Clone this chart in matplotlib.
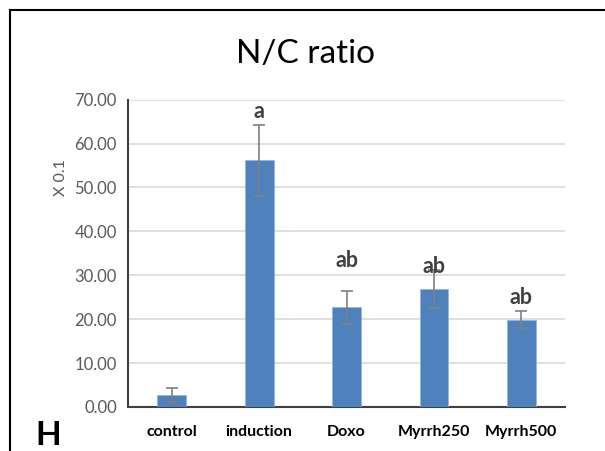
import matplotlib
matplotlib.use("Agg")
import matplotlib.pyplot as plt
from matplotlib.lines import Line2D

categories = ["control", "induction", "Doxo", "Myrrh250", "Myrrh500"]
values = [2.65, 56.2, 22.7, 26.8, 19.9]
errors = [1.6, 8.1, 3.8, 4.3, 2.0]
letters = ["", "a", "ab", "ab", "ab"]
letter_y = [0, 67.2, 33.3, 32.1, 25.0]
yticks = [0, 10, 20, 30, 40, 50, 60, 70]

plt.rcParams['font.family'] = ['Lato', 'DejaVu Sans']

fig = plt.figure(figsize=(6.05, 4.51), dpi=100)
ax = fig.add_axes([0.2116, 0.0976, 0.934 - 0.2116, 0.779 - 0.0976])

x = list(range(len(categories)))
ax.bar(x, values, width=0.33, color="#4f81bd", edgecolor="#8eb4e3", linewidth=0.5, zorder=3)
ax.errorbar(x, values, yerr=errors, fmt="none", ecolor="#808080", elinewidth=1.2,
            capsize=4, capthick=1.2, zorder=4)

for xi, lab, ly in zip(x, letters, letter_y):
    if lab:
        ax.text(xi, ly, lab, ha="center", va="center", fontsize=15.5, fontweight="bold",
                color="#404040", zorder=5)

ax.set_xlim(-0.5, 4.5)
ax.set_ylim(0, 70)
ax.set_yticks(yticks)
ax.set_yticklabels([f"{v:.2f}" for v in yticks], fontsize=12, color="#595959")
ax.set_xticks(x)
ax.set_xticklabels(categories, fontsize=11.5, fontweight="bold", color="#000000")
ax.tick_params(axis="y", length=0, pad=8)
ax.tick_params(axis="x", length=0, pad=13)
ax.yaxis.grid(True, color="#d9d9d9", linewidth=1.2, zorder=0)
ax.set_axisbelow(True)
for s in ["top", "right"]:
    ax.spines[s].set_visible(False)
ax.spines["left"].set_color("#404040")
ax.spines["bottom"].set_color("#404040")
ax.spines["left"].set_linewidth(1.5)
ax.spines["bottom"].set_linewidth(1.5)

ax.set_ylabel("X 0.1", fontsize=11.5, color="#595959")
ax.yaxis.set_label_coords(-0.137, 0.745)

fig.text(0.505, 0.88, "N/C ratio", ha="center", va="center", fontsize=24, color="#000000")
fig.text(0.058, 0.013, "H", ha="left", va="baseline", fontsize=24, fontweight="bold", color="#000000")

# outer frame lines (left and top)
fig.add_artist(Line2D([10/605, 10/605], [0, 1 - 10/451], transform=fig.transFigure, color="black", linewidth=1.5))
fig.add_artist(Line2D([10/605, 1], [1 - 10/451, 1 - 10/451], transform=fig.transFigure, color="black", linewidth=1.5))

fig.savefig("out.png", dpi=100)
